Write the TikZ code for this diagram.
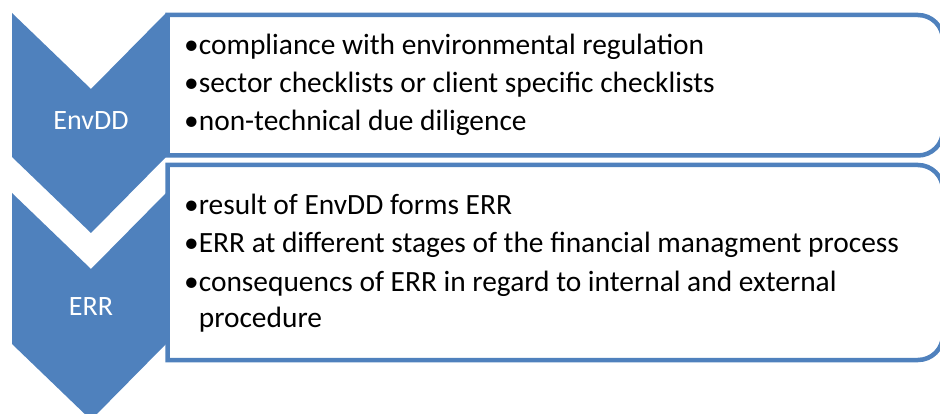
\documentclass[tikz,border=0pt]{standalone}
\usepackage{fontspec}
\setmainfont{Carlito}
\definecolor{accent}{HTML}{4F81BD}
\begin{document}
\begin{tikzpicture}[x=1pt,y=-1pt,
  chev/.style={fill=accent,draw=none},
  boxline/.style={draw=accent,line width=4.5pt,fill=white},
  bul/.style={anchor=base west,inner sep=0pt,font=\fontsize{29.4}{34}\selectfont,text=black},
  lab/.style={anchor=base,inner sep=0pt,font=\fontsize{28}{33}\selectfont,text=white}]
\useasboundingbox (0,0) rectangle (940,414);
\clip (0,0) rectangle (940,414);
% chevrons
\fill[chev] (12,13) -- (91,89) -- (166,13) -- (166,157) -- (91,233) -- (12,157) -- cycle;
\fill[chev] (12,193) -- (91,269) -- (166,193) -- (166,344) -- (91,420) -- (12,344) -- cycle;
% boxes
\draw[boxline] (167.5,155.5) -- (167.5,15) [rounded corners=25pt] -- (943,15) -- (943,155.5) [sharp corners] -- cycle;
\draw[boxline] (167.5,360) -- (167.5,165) [rounded corners=25pt] -- (943,165) -- (943,360) [sharp corners] -- cycle;
% labels
\node[lab] (l1) at (91,130) {EnvDD};
\node[lab] (l2) at (91,316) {ERR};
% bullets box 1
\node[bul] (a1) at (184,55) {•compliance with environmental regulation};
\node[bul] (a2) at (184,93) {•sector checklists or client specific checklists};
\node[bul] (a3) at (184,131) {•non-technical due diligence};
% bullets box 2
\node[bul] (b1) at (184,215) {•result of EnvDD forms ERR};
\node[bul] (b2) at (184,253) {•ERR at different stages of the financial managment process};
\node[bul] (b3) at (184,291) {•consequencs of ERR in regard to internal and external};
\node[bul] (b4) at (b3.base west) [yshift=-36pt] {\phantom{•}procedure};
\end{tikzpicture}
\end{document}
